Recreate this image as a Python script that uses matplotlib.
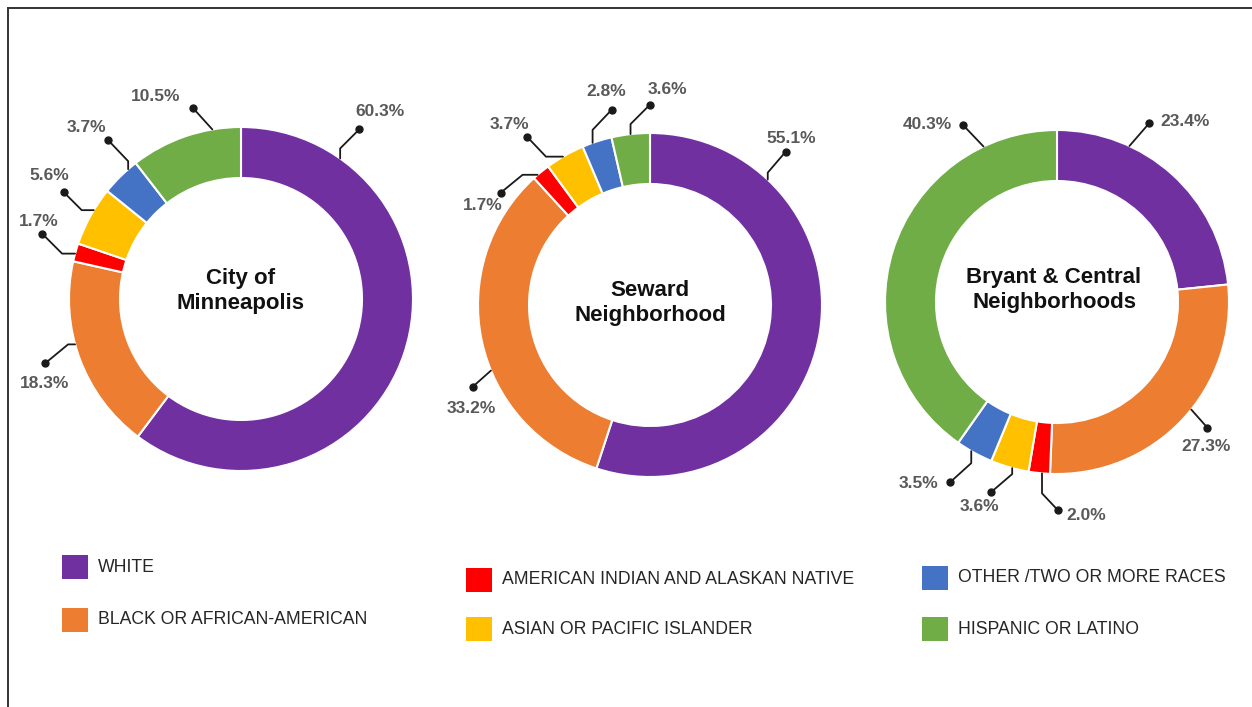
import numpy as np
import matplotlib
matplotlib.use("Agg")
from matplotlib import pyplot as plt
from matplotlib.patches import Rectangle

# DATA
groups = ["WHITE", "BLACK OR AFRICAN-AMERICAN", "AMERICAN INDIAN AND ALASKAN NATIVE",
          "ASIAN OR PACIFIC ISLANDER", "OTHER /TWO OR MORE RACES", "HISPANIC OR LATINO"]
colors = ["#7030A0", "#ED7D31", "#FF0000", "#FFC000", "#4472C4", "#70AD47"]

titles = ["City of\nMinneapolis", "Seward\nNeighborhood", "Bryant & Central\nNeighborhoods"]
minneapolis = [60.3, 18.3, 1.7, 5.6, 3.7, 10.5]
seward = [55.1, 33.2, 1.7, 3.7, 2.8, 3.6]
bryant_central = [23.4, 27.3, 2.0, 3.6, 3.5, 40.3]
all_values = [minneapolis, seward, bryant_central]

# LAYOUT (pixel units, y down)
W, H = 1252, 707
centers = [(241, 299), (650, 305), (1057, 302)]
R = 172
ring = 51
title_dy = [-8, -2, -12]
title_dx = [0, 0, -3]

# per label: anchor angle on ring (deg clockwise from top), elbow, dot, text offsets from anchor
label_layout = [
    [(35.2, (0, -10), (19, -29), (40, -47)),
     (254.7, (-7, 0), (-30, 19), (-31, 39)),
     (285.3, (-13, 0), (-33, -20), (-36, -32)),
     (301.1, (-12, 0), (-30, -18), (-44, -35)),
     (319.0, (0, -8), (-20, -29), (-42, -42)),
     (350.4, (0, 0), (-19, -21), (-57, -33))],
    [(43.2, (0, -7), (18, -28), (23, -41)),
     (247.6, (0, 0), (-18, 16), (-20, 38)),
     (319.2, (-15, 0), (-37, 18), (-55, 31)),
     (329.6, (-17, 0), (-36, -20), (-54, -32)),
     (340.5, (0, -13), (19, -33), (14, -51)),
     (353.5, (0, -10), (19, -29), (37, -45))],
    [(24.9, (0, 0), (20, -23), (56, -24)),
     (128.7, (0, 0), (16, 18), (15, 37)),
     (185.0, (0, 20), (16, 37), (44, 42)),
     (195.1, (0, 6), (-21, 24), (-33, 38)),
     (209.9, (0, 12), (-21, 31), (-53, 32)),
     (334.7, (0, 0), (-20, -21), (-56, -22))],
]

legend_pos = [(62, 555), (62, 608), (466, 568), (466, 617), (922, 566), (922, 617)]

plt.rcParams['font.family'] = ['Liberation Sans', 'DejaVu Sans']

fig = plt.figure(figsize=(W / 100, H / 100), dpi=100)
ax = fig.add_axes([0, 0, 1, 1])

for k in range(3):
    cx, cy = centers[k]
    vals = all_values[k]
    # y axis is flipped, so counterclock in data = clockwise on screen
    ax.pie(vals, colors=colors, startangle=-90, counterclock=True,
           center=(cx, cy), radius=R,
           wedgeprops=dict(width=ring, edgecolor='white', linewidth=1.5))
    ax.text(cx + title_dx[k], cy + title_dy[k], titles[k], ha='center', va='center',
            fontsize=16, fontweight='bold', color='#111111', linespacing=1.3)

    for v, (ang, elb, dot, txt) in zip(vals, label_layout[k]):
        t = np.radians(ang)
        ex = cx + R * np.sin(t)
        ey = cy - R * np.cos(t)
        xs = [ex, ex + elb[0], ex + dot[0]]
        ys = [ey, ey + elb[1], ey + dot[1]]
        ax.plot(xs, ys, color='#1a1a1a', lw=1.3, solid_capstyle='round')
        ax.plot(xs[-1], ys[-1], 'o', color='#1a1a1a', markersize=5)
        ax.text(ex + txt[0], ey + txt[1], f"{v:.1f}%", ha='center', va='center',
                fontsize=12.5, fontweight='bold', color='#595959')

# legend
for name, col, (lx, ly) in zip(groups, colors, legend_pos):
    ax.add_patch(Rectangle((lx, ly), 26, 24, facecolor=col, edgecolor='none'))
    ax.text(lx + 36, ly + 12, name, ha='left', va='center',
            fontsize=12.7, color='#262626')

# frame around the picture
ax.plot([8, 8], [8, H + 5], color='#333333', lw=1.4)
ax.plot([8, W + 5], [8, 8], color='#333333', lw=1.4)

ax.set_xlim(0, W)
ax.set_ylim(H, 0)
ax.set_aspect('auto')
ax.axis('off')

fig.savefig('out.png', dpi=100, facecolor='white')
